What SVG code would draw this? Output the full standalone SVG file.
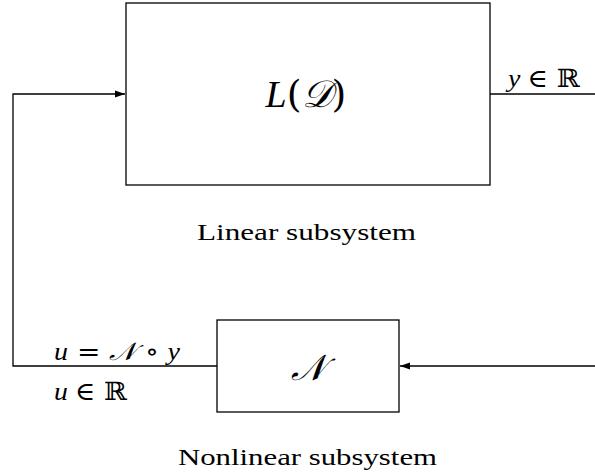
<svg xmlns="http://www.w3.org/2000/svg" width="595" height="474" viewBox="0 0 595 474">
<style>
.box{fill:#fff;stroke:#000;stroke-width:1.3}
.ln{fill:none;stroke:#000;stroke-width:1.3}
.t{font-family:"Liberation Serif","DejaVu Serif",serif;fill:#000}
.m{font-family:"Liberation Serif","DejaVu Serif",serif;font-style:italic;fill:#000}
.r{font-family:"DejaVu Serif","Liberation Serif",serif;font-style:normal}
</style>
<defs>
<marker id="ah" viewBox="0 0 10 10" refX="10" refY="5" markerWidth="10" markerHeight="10" markerUnits="userSpaceOnUse" orient="auto">
<path d="M0,1.5 L10,5 L0,8.5 Z" fill="#000"/>
</marker>
</defs>
<rect width="595" height="474" fill="#fff"/>
<g id="connectors">
<polyline class="ln" points="217,366 13,366 13,94 125,94" marker-end="url(#ah)"/>
<line class="ln" x1="490" y1="94" x2="595" y2="94"/>
<line class="ln" x1="595" y1="366" x2="400" y2="366" marker-end="url(#ah)"/>
<text class="m" x="508" y="87" font-size="25" textLength="72" lengthAdjust="spacingAndGlyphs">y <tspan class="r">∈ ℝ</tspan></text>
<text class="m" x="54" y="360" font-size="25" textLength="126" lengthAdjust="spacingAndGlyphs">u<tspan class="r"> = </tspan>𝒩<tspan class="r"> ∘ </tspan>y</text>
<text class="m" x="54" y="400" font-size="25" textLength="73" lengthAdjust="spacingAndGlyphs">u <tspan class="r">∈ ℝ</tspan></text>
</g>
<g id="linear">
<rect class="box" x="126" y="3" width="364" height="182"/>
<text class="m" x="306" y="107" font-size="38" text-anchor="middle">L<tspan class="r">(</tspan>𝒟<tspan class="r">)</tspan></text>
<text class="t" x="197" y="240" font-size="23" textLength="219" lengthAdjust="spacingAndGlyphs">Linear subsystem</text>
</g>
<g id="nonlinear">
<rect class="box" x="217" y="320" width="182" height="92"/>
<text class="m" x="308" y="380" font-size="36" text-anchor="middle">𝒩</text>
<text class="t" x="178" y="465" font-size="23" textLength="259" lengthAdjust="spacingAndGlyphs">Nonlinear subsystem</text>
</g>
</svg>
